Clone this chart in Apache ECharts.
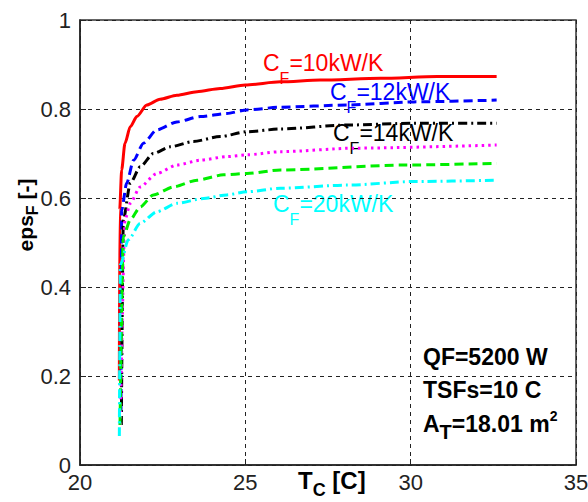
<!DOCTYPE html>
<html><head><meta charset="utf-8">
<script src="https://cdn.jsdelivr.net/npm/echarts@6/dist/echarts.min.js"></script>
<style>html,body{margin:0;padding:0;background:#fff}#c{width:588px;height:502px}</style>
</head><body><div id="c"></div>
<script>
// ---- data ----
const xTicks = [20, 25, 30, 35];
const yTicks = [0, 0.2, 0.4, 0.6, 0.8, 1];
const seriesNames = ['CF=10kW/K', 'CF=12kW/K', 'CF=14kW/K', 'CF=16kW/K', 'CF=18kW/K', 'CF=20kW/K'];

const tRed   = [21.19, 21.20, 21.26, 21.36, 21.52, 21.72, 22.02, 22.42, 22.93, 23.54, 24.24, 25.0, 26.06, 27.27, 29.09, 30.8, 32.6];
const epsRed = [0.19, 0.573, 0.663, 0.723, 0.760, 0.783, 0.809, 0.822, 0.831, 0.839, 0.846, 0.854, 0.861, 0.865, 0.869, 0.873, 0.873];

const tBlue   = [21.24, 21.26, 21.41, 21.62, 21.92, 22.32, 22.93, 23.64, 24.44, 25.05, 26.06, 28.08, 30.1, 32.6];
const epsBlue = [0.12, 0.573, 0.633, 0.685, 0.723, 0.753, 0.771, 0.783, 0.790, 0.798, 0.804, 0.809, 0.816, 0.820];

const tBlack   = [21.25, 21.31, 21.52, 21.82, 22.22, 22.73, 23.43, 24.24, 25.05, 26.06, 28.08, 30.1, 32.6];
const epsBlack = [0.09, 0.551, 0.633, 0.670, 0.700, 0.715, 0.727, 0.738, 0.749, 0.755, 0.764, 0.768, 0.768];

const tMagenta   = [21.22, 21.36, 21.52, 21.82, 22.32, 22.93, 23.64, 24.44, 25.05, 26.06, 28.3, 32.6];
const epsMagenta = [0.09, 0.551, 0.588, 0.625, 0.655, 0.674, 0.685, 0.693, 0.697, 0.704, 0.712, 0.719];

const tGreen   = [21.21, 21.31, 21.52, 21.82, 22.22, 22.83, 23.54, 24.34, 25.05, 26.06, 29.8, 32.6];
const epsGreen = [0.09, 0.513, 0.551, 0.580, 0.607, 0.625, 0.640, 0.652, 0.655, 0.663, 0.674, 0.678];

const tCyan   = [21.19, 21.22, 21.46, 21.82, 22.32, 22.93, 23.74, 24.44, 25.05, 26.06, 28.08, 30.1, 32.6];
const epsCyan = [0.065, 0.45, 0.506, 0.543, 0.569, 0.588, 0.599, 0.607, 0.614, 0.622, 0.629, 0.637, 0.640];

const curveLabels = ['10kW/K', '12kW/K', '14kW/K', '20kW/K'];
const infoLines = ['QF=5200 W', 'TSFs=10 C', '18.01 m'];
const xName = 'T';
const yName = 'eps';

// ---- build ----
const pairs = (xs, ys) => xs.map((x, i) => [x, ys[i]]);
const colors = ['#ff0000', '#0000ff', '#000000', '#ff00ff', '#00ee00', '#00ffff'];
const dashes = ['solid', [9, 5], [9, 4, 2, 4], [2.5, 4], [9, 5], [9, 4, 2, 4]];
const allData = [
  pairs(tRed, epsRed), pairs(tBlue, epsBlue), pairs(tBlack, epsBlack),
  pairs(tMagenta, epsMagenta), pairs(tGreen, epsGreen), pairs(tCyan, epsCyan)
];

const FONT = '"Liberation Sans", Arial, sans-serif';

function cfLabel(x, y, txt, color) {
  return {
    type: 'text', x: x, y: y, silent: true,
    style: { text: '{m|C}{s|F}{m|=' + txt + '}', align: 'left', verticalAlign: 'top', fill: color,
      rich: {
        m: { fontSize: 23, fontFamily: FONT, verticalAlign: 'middle', fill: color },
        s: { fontSize: 16, fontFamily: FONT, verticalAlign: 'middle', fill: color, padding: [30, 0, 0, 0] }
      } }
  };
}

const chart = echarts.init(document.getElementById('c'), null, { renderer: 'svg' });
chart.setOption({
  animation: false,
  backgroundColor: '#fff',
  grid: { left: 80, right: 12, top: 20, bottom: 37, show: true, borderColor: '#333', borderWidth: 1.5, outerBoundsMode: 'none' },
  xAxis: {
    type: 'value', min: xTicks[0], max: xTicks[xTicks.length - 1], interval: 5,
    axisLine: { show: true, lineStyle: { color: '#222', width: 1.5 } },
    axisTick: { show: true, inside: true, length: 6, lineStyle: { color: '#222' } },
    axisLabel: { fontSize: 22, color: '#222', fontFamily: FONT, margin: 6, formatter: v => String(v) },
    splitLine: { show: true, lineStyle: { color: '#222', type: [4, 4], width: 1 } }
  },
  yAxis: {
    type: 'value', min: yTicks[0], max: yTicks[yTicks.length - 1], interval: 0.2,
    axisLine: { show: true, lineStyle: { color: '#222', width: 1.5 } },
    axisTick: { show: true, inside: true, length: 6, lineStyle: { color: '#222' } },
    axisLabel: { fontSize: 22, color: '#222', fontFamily: FONT, margin: 9, formatter: v => String(Math.round(v * 10) / 10) },
    splitLine: { show: true, lineStyle: { color: '#222', type: [4, 4], width: 1 } }
  },
  series: allData.map((d, i) => ({
    name: seriesNames[i], type: 'line', data: d, showSymbol: false, smooth: 0.25, smoothMonotone: 'x',
    lineStyle: { color: colors[i], width: 3, type: dashes[i], cap: 'butt', join: 'round' },
    z: 2 + i
  })),
  graphic: [
    cfLabel(263, 40, curveLabels[0], '#ff0000'),
    cfLabel(330, 69, curveLabels[1], '#0000ff'),
    cfLabel(333, 110, curveLabels[2], '#000000'),
    cfLabel(273, 181, curveLabels[3], '#00ffff'),
    { type: 'text', x: 423, y: 357, silent: true,
      style: { text: infoLines[0], font: 'bold 23px ' + FONT, fill: '#000', align: 'left', verticalAlign: 'middle' } },
    { type: 'text', x: 423, y: 390, silent: true,
      style: { text: infoLines[1], font: 'bold 23px ' + FONT, fill: '#000', align: 'left', verticalAlign: 'middle' } },
    { type: 'text', x: 423, y: 406, silent: true,
      style: { text: '{m|A}{s|T}{m|=' + infoLines[2] + '}{p|2}', align: 'left', verticalAlign: 'top', fill: '#000',
        rich: {
          m: { fontSize: 23, fontWeight: 'bold', fontFamily: FONT, verticalAlign: 'middle', fill: '#000' },
          s: { fontSize: 20, fontWeight: 'bold', fontFamily: FONT, verticalAlign: 'middle', fill: '#000', padding: [16, 0, 0, 0] },
          p: { fontSize: 14, fontWeight: 'bold', fontFamily: FONT, verticalAlign: 'middle', fill: '#000', padding: [0, 0, 17, 0] }
        } } },
    { type: 'text', x: 298, y: 461, silent: true,
      style: { text: '{m|' + xName + '}{s|C}{m| [C]}', align: 'left', verticalAlign: 'top', fill: '#000',
        rich: {
          m: { fontSize: 24, fontWeight: 'bold', fontFamily: FONT, verticalAlign: 'middle', fill: '#000' },
          s: { fontSize: 18, fontWeight: 'bold', fontFamily: FONT, verticalAlign: 'middle', fill: '#000', padding: [20, 0, 0, 0] }
        } } },
    { type: 'text', x: 25, y: 215, rotation: Math.PI / 2, silent: true,
      style: { text: '{m|' + yName + '}{s|F}{m| [-]}', align: 'center', verticalAlign: 'middle', fill: '#000',
        rich: {
          m: { fontSize: 21, fontWeight: 'bold', fontFamily: FONT, verticalAlign: 'middle', fill: '#000' },
          s: { fontSize: 16, fontWeight: 'bold', fontFamily: FONT, verticalAlign: 'middle', fill: '#000', padding: [14, 0, 0, 0] }
        } } }
  ]
});
</script></body></html>
